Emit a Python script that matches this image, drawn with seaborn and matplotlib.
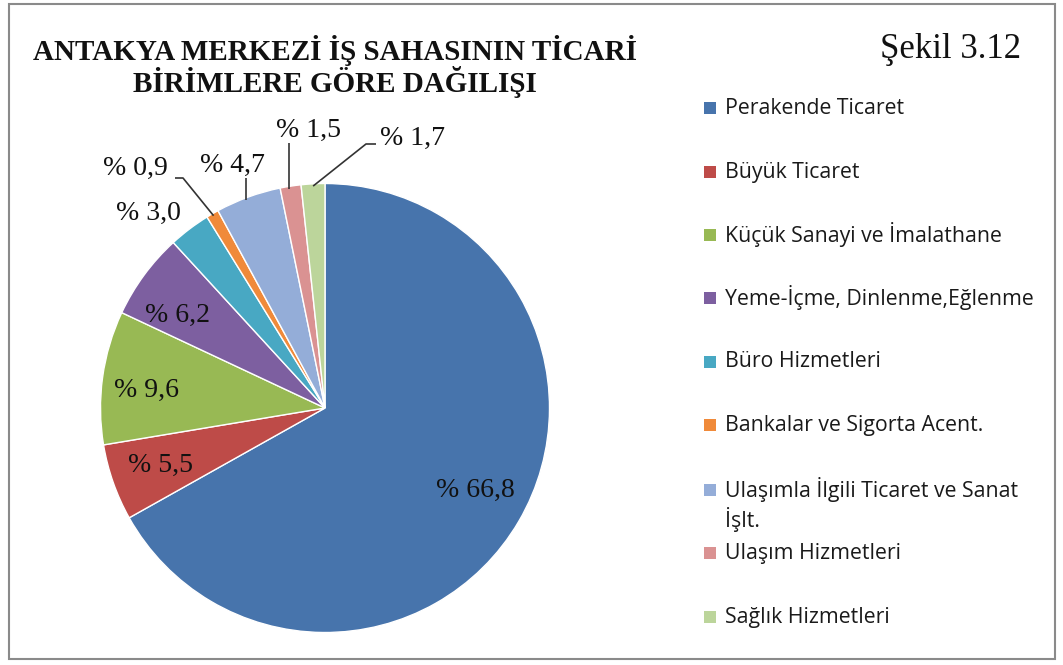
import matplotlib
matplotlib.use("Agg")
import matplotlib.pyplot as plt
from matplotlib.patches import Rectangle
import numpy as np
import seaborn as sns

# Commercial units in the Antakya central business district (%)
categories = [
    "Perakende Ticaret",
    "Büyük Ticaret",
    "Küçük Sanayi ve İmalathane",
    "Yeme-İçme, Dinlenme,Eğlenme",
    "Büro Hizmetleri",
    "Bankalar ve Sigorta Acent.",
    "Ulaşımla İlgili Ticaret ve Sanat\nİşlt.",
    "Ulaşım Hizmetleri",
    "Sağlık Hizmetleri",
]
shares = [66.8, 5.5, 9.6, 6.2, 3.0, 0.9, 4.7, 1.5, 1.7]
label_texts = ["% 66,8", "% 5,5", "% 9,6", "% 6,2", "% 3,0",
               "% 0,9", "% 4,7", "% 1,5", "% 1,7"]

colors = sns.color_palette([
    "#4774AC", "#BE4B48", "#98B954", "#7D5FA0", "#48A8C3",
    "#F08A3A", "#94ADD8", "#DA9292", "#BCD59B",
])

sns.set_theme(style="white")
plt.rcParams["font.family"] = ["Liberation Serif", "DejaVu Serif"]

W, H = 1063, 665
fig = plt.figure(figsize=(W / 100, H / 100), dpi=100)
fig.patch.set_facecolor("white")

# Axes span the whole canvas; one data unit equals the pie radius
cx, cy, R = 325.0, 408.0, 224.5
ax = fig.add_axes([0, 0, 1, 1])


def to_data(px, py):
    return (px - cx) / R, (cy - py) / R


wedges, _ = ax.pie(
    shares, colors=colors, startangle=90, counterclock=False,
    radius=1.0, center=(0, 0),
    wedgeprops=dict(edgecolor="white", linewidth=1.0),
)
ax.set_xlim(-cx / R, (W - cx) / R)
ax.set_ylim(-(H - cy) / R, cy / R)
ax.set_aspect("equal")
ax.axis("off")

# Percentage labels (pixel anchor of each label)
label_pos = [(475, 490), (160, 465), (146, 390), (177, 315), (148, 213),
             (135, 168), (232, 165), (308, 130), (413, 138)]
for txt, (px, py) in zip(label_texts, label_pos):
    x, y = to_data(px, py)
    ax.text(x, y, txt, ha="center", va="center", fontsize=20,
            color="#111111")


# Leader lines for the small slices, ending at each wedge's outer arc
def arc_point(w, r=1.0):
    ang = np.deg2rad((w.theta1 + w.theta2) / 2)
    return r * np.cos(ang), r * np.sin(ang)


leaders = {
    5: [(175, 178), (183, 178)],
    6: [(246, 178)],
    7: [(289, 143)],
    8: [(376, 144), (366, 144)],
}
for idx, pts in leaders.items():
    ex, ey = arc_point(wedges[idx], 0.99)
    xs = [to_data(*p)[0] for p in pts]
    ys = [to_data(*p)[1] for p in pts]
    if idx in (6, 7):
        # vertical drop onto the rim of the slice
        ex = xs[0]
        ey = np.sqrt(max(1 - ex ** 2, 0)) - 0.01
    xs.append(ex)
    ys.append(ey)
    ax.plot(xs, ys, color="#333333", lw=1.2, solid_capstyle="butt")

# Title and figure number
fig.text(335 / W, 1 - 50 / H, "ANTAKYA MERKEZİ İŞ SAHASININ TİCARİ",
         ha="center", va="center", fontsize=21, fontweight="bold",
         color="#111111")
fig.text(335 / W, 1 - 82 / H, "BİRİMLERE GÖRE DAĞILIŞI",
         ha="center", va="center", fontsize=21, fontweight="bold",
         color="#111111")
fig.text(951 / W, 1 - 50 / H, "Şekil 3.12", ha="center", va="center",
         fontsize=25, color="#111111")

# Legend entries (multi-line names stack their lines 30 px apart)
legend_y = [108, 172, 235, 298, 362, 425, 490, 553, 617]
for name, col, ly in zip(categories, colors, legend_y):
    fig.patches.append(Rectangle((704 / W, 1 - (ly + 6) / H),
                                 12 / W, 12 / H, transform=fig.transFigure,
                                 facecolor=col, edgecolor="none"))
    for i, line in enumerate(name.split("\n")):
        fig.text(725 / W, 1 - (ly + 30 * i) / H, line, ha="left",
                 va="center", fontsize=15.3,
                 family=["Open Sans", "DejaVu Sans"], color="#1a1a1a")

# Outer frame
fig.patches.append(Rectangle((9 / W, 1 - 659 / H), (1055 - 9) / W,
                             (659 - 4) / H, transform=fig.transFigure,
                             facecolor="none", edgecolor="#8a8a8a",
                             linewidth=1.5))

fig.savefig("out.png", dpi=100, facecolor="white")
